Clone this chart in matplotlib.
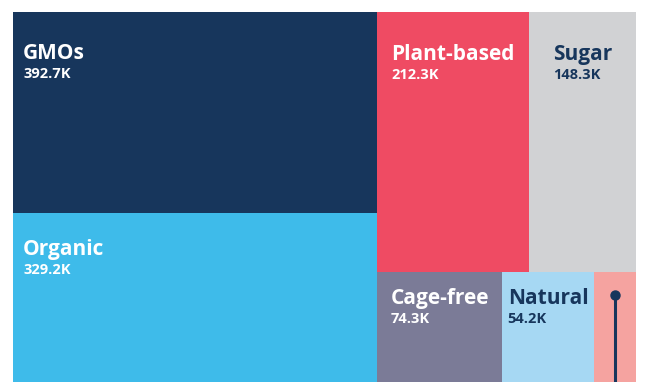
import matplotlib.pyplot as plt
from matplotlib.patches import Rectangle

# treemap values (thousands)
labels = ['GMOs', 'Organic', 'Plant-based', 'Sugar', 'Cage-free', 'Natural', 'Other']
values = [392.7, 329.2, 212.3, 148.3, 74.3, 54.2, 25.0]
colors = ['#17365c', '#3ebbea', '#ef4b63', '#d1d2d4', '#7b7b97', '#a6d8f3', '#f5a3a0']
text_colors = ['white', 'white', 'white', '#17365c', 'white', '#17365c', None]

# groups: left column (stacked), right column split into two rows
left = [0, 1]
right_rows = [[2, 3], [4, 5, 6]]

W, H = 623, 370  # axes size in px
fig = plt.figure(figsize=(6.46, 3.82), dpi=100)
ax = fig.add_axes([13 / 646, 0, W / 646, H / 382])
ax.set_xlim(0, W)
ax.set_ylim(H, 0)
ax.axis('off')

total = sum(values)
rects = {}
left_sum = sum(values[i] for i in left)
lw = W * left_sum / total
y = 0
for i in left:
    h = H * values[i] / left_sum
    rects[i] = (0, y, lw, h)
    y += h

right_sum = total - left_sum
y = 0
for row in right_rows:
    row_sum = sum(values[i] for i in row)
    h = H * row_sum / right_sum
    x = lw
    for i in row:
        w = (W - lw) * values[i] / row_sum
        rects[i] = (x, y, w, h)
        x += w
    y += h

font = ['Open Sans', 'DejaVu Sans']
renderer = fig.canvas.get_renderer()
for i, (x, y, w, h) in rects.items():
    ax.add_patch(Rectangle((x, y), w, h, facecolor=colors[i], edgecolor='none'))
    if text_colors[i] is None:
        # small slice: pin marker instead of a label
        cx = x + w / 2
        top = y + 23
        ax.plot([cx, cx], [top, H + 5], color='#17365c', lw=2.2, clip_on=False)
        ax.plot(cx, top, 'o', color='#17365c', ms=6.5)
        continue
    base = y + min(0.16 * h, 33) + 15
    t = ax.text(x + w / 2, base, labels[i], color=text_colors[i], fontsize=15,
                fontweight='bold', family=font, va='baseline', ha='center')
    tw = t.get_window_extent(renderer).width
    if w > 200:
        tx = x + 10
        t.set_x(tx)
        t.set_ha('left')
    else:
        tx = x + w / 2 - tw / 2
    ax.text(tx, base + 19, f'{values[i]:.1f}K', color=text_colors[i], fontsize=10.5,
            fontweight='bold', family=font, va='baseline', ha='left')

fig.savefig('out.png', dpi=100)
